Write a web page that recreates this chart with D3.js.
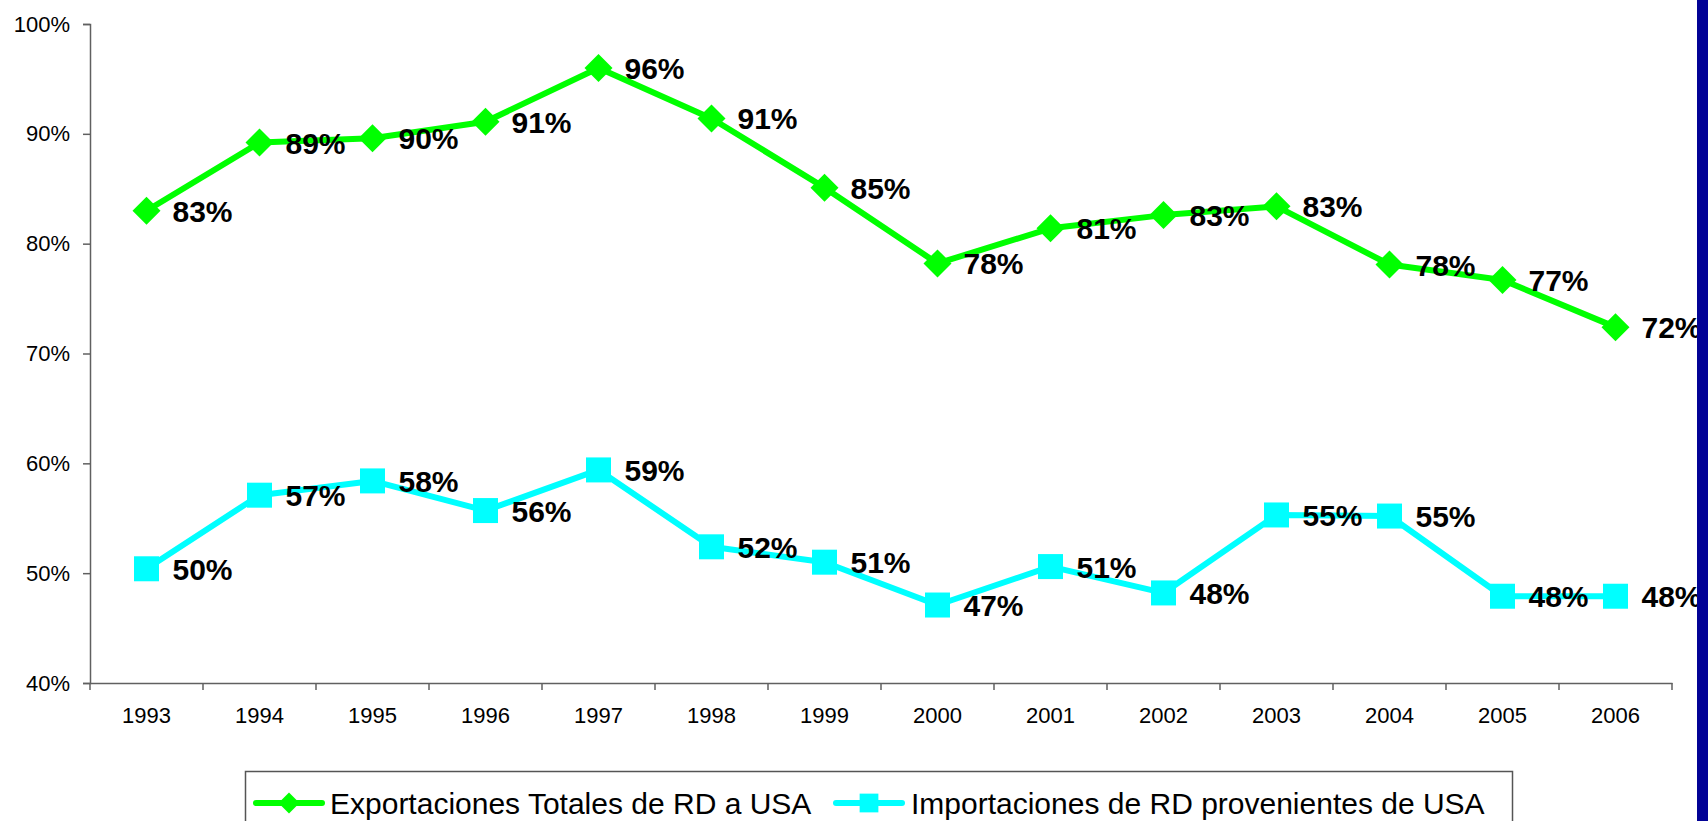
<!DOCTYPE html>
<html>
<head>
<meta charset="utf-8">
<script src="https://cdn.jsdelivr.net/npm/d3@7"></script>
<style>
  body { margin: 0; background: #fff; }
  svg { display: block; font-family: "Liberation Sans", Arial, sans-serif; }
</style>
</head>
<body>
<svg width="1708" height="821"></svg>
<script>
// data
var years = ["1993", "1994", "1995", "1996", "1997", "1998", "1999",
             "2000", "2001", "2002", "2003", "2004", "2005", "2006"];
var exportaciones = [83.0, 89.2, 89.6, 91.1, 96.0, 91.4, 85.1,
                     78.2, 81.4, 82.6, 83.4, 78.1, 76.7, 72.4];
var importaciones = [50.4, 57.1, 58.4, 55.7, 59.4, 52.4, 51.0,
                     47.1, 50.6, 48.2, 55.3, 55.2, 47.9, 47.9];
var yTicks = [40, 50, 60, 70, 80, 90, 100];
var seriesNames = ["Exportaciones Totales de RD a USA", "Importaciones de RD provenientes de USA"];

var svg = d3.select("svg");
var plotLeft = 90, plotRight = 1672, plotTop = 24, plotBottom = 683;

var x = d3.scaleBand().domain(years).range([plotLeft, plotRight]);
var y = d3.scaleLinear().domain([40, 100]).range([plotBottom, plotTop]);
var px = function(d, i) { return x(years[i]) + x.bandwidth() / 2; };

// axes
var yAxis = svg.append("g")
    .attr("transform", "translate(" + plotLeft + ",0)")
    .call(d3.axisLeft(y).tickValues(yTicks).tickSize(7).tickPadding(13)
        .tickFormat(function(d) { return d + "%"; }));
yAxis.selectAll("text").attr("font-size", 22).attr("fill", "#000")
    .attr("font-family", "Liberation Sans, Arial, sans-serif");

var xAxis = svg.append("g")
    .attr("transform", "translate(0," + plotBottom + ")")
    .call(d3.axisBottom(x).tickSize(0).tickPadding(24));
xAxis.selectAll("text").attr("font-size", 22).attr("fill", "#000")
    .attr("font-family", "Liberation Sans, Arial, sans-serif");
// tick marks between categories
xAxis.selectAll("line.sep")
    .data(d3.range(years.length + 1)).enter()
    .append("line")
    .attr("class", "sep")
    .attr("x1", function(i) { return plotLeft + i * x.bandwidth(); })
    .attr("x2", function(i) { return plotLeft + i * x.bandwidth(); })
    .attr("y1", 0).attr("y2", 7);

svg.selectAll(".domain, .tick line, line.sep")
    .attr("stroke", "#606060").attr("stroke-width", 1.5);

var line = d3.line().x(px).y(function(d) { return y(d); });
var fmt = function(d) { return Math.round(d) + "%"; };

function drawSeries(values, color, shape) {
    svg.append("path")
        .datum(values)
        .attr("d", line)
        .attr("fill", "none")
        .attr("stroke", color)
        .attr("stroke-width", 6)
        .attr("stroke-linejoin", "round");

    svg.selectAll(null)
        .data(values).enter()
        .append("path")
        .attr("transform", function(d, i) { return "translate(" + px(d, i) + "," + y(d) + ")"; })
        .attr("d", shape)
        .attr("fill", color);

    svg.selectAll(null)
        .data(values).enter()
        .append("text")
        .attr("x", function(d, i) { return px(d, i) + 26; })
        .attr("y", function(d) { return y(d) + 11; })
        .attr("font-size", 30)
        .attr("font-weight", "bold")
        .attr("fill", "#000")
        .text(fmt);
}

var diamond = "M0,-14L14,0L0,14L-14,0Z";
var square = "M-12.5,-12.5H12.5V12.5H-12.5Z";

drawSeries(exportaciones, "#00ff00", diamond);
drawSeries(importaciones, "#00ffff", square);

// legend
var legend = svg.append("g");
legend.append("rect")
    .attr("x", 245.5).attr("y", 771.5)
    .attr("width", 1267).attr("height", 70)
    .attr("fill", "#fff").attr("stroke", "#555").attr("stroke-width", 1.5);

var legendItems = [
    { name: seriesNames[0], color: "#00ff00", shape: diamond, x0: 253, tx: 330 },
    { name: seriesNames[1], color: "#00ffff", shape: square, x0: 833, tx: 911 }
];
var ly = 803;
legendItems.forEach(function(it) {
    legend.append("line")
        .attr("x1", it.x0 + 3).attr("x2", it.x0 + 69)
        .attr("y1", ly).attr("y2", ly)
        .attr("stroke", it.color).attr("stroke-width", 6).attr("stroke-linecap", "round");
    legend.append("path")
        .attr("transform", "translate(" + (it.x0 + 36) + "," + ly + ") scale(0.75)")
        .attr("d", it.shape).attr("fill", it.color);
    legend.append("text")
        .attr("x", it.tx).attr("y", ly + 11)
        .attr("font-size", 30).attr("fill", "#000")
        .text(it.name);
});

// dark slide border at right edge
svg.append("rect")
    .attr("x", 1697).attr("y", 0).attr("width", 11).attr("height", 821)
    .attr("fill", "#020296");
</script>
</body>
</html>
